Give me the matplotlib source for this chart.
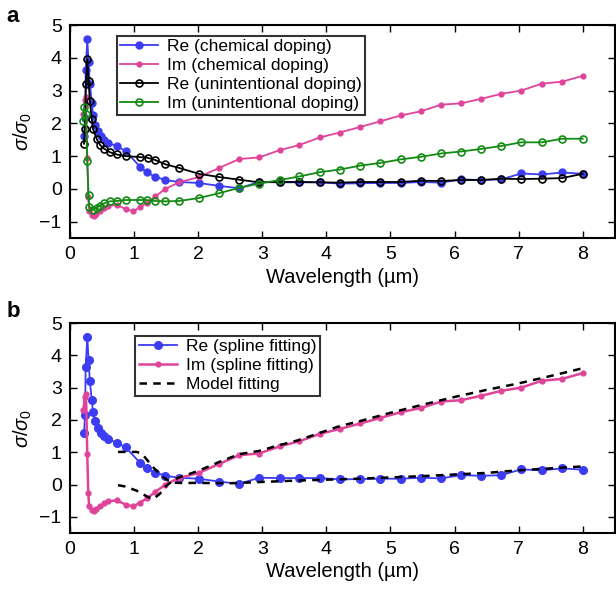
import numpy as np
import matplotlib
matplotlib.use("Agg")
import matplotlib.pyplot as plt

plt.rcParams['font.family'] = ['Liberation Sans', 'DejaVu Sans']
plt.rcParams['mathtext.fontset'] = 'custom'
plt.rcParams['mathtext.rm'] = 'Liberation Sans'
plt.rcParams['mathtext.it'] = 'Liberation Sans:italic'

# chemical doping (also the spline fitting in b)
re_chem_x = [0.22, 0.235, 0.245, 0.27, 0.29, 0.31, 0.34, 0.36, 0.39, 0.43, 0.48, 0.53, 0.60, 0.73, 0.87,
             1.09, 1.20, 1.33, 1.49, 1.70, 2.01, 2.33, 2.64, 2.95, 3.27, 3.58, 3.90, 4.21, 4.53, 4.84,
             5.16, 5.48, 5.79, 6.10, 6.42, 6.73, 7.04, 7.36, 7.68, 8.00]
re_chem_y = [1.60, 2.15, 3.64, 4.56, 3.86, 3.19, 2.63, 2.24, 1.96, 1.76, 1.60, 1.50, 1.40, 1.30, 1.15,
             0.68, 0.50, 0.37, 0.27, 0.21, 0.18, 0.09, 0.02, 0.21, 0.20, 0.20, 0.20, 0.16, 0.17, 0.18,
             0.18, 0.21, 0.19, 0.29, 0.27, 0.29, 0.47, 0.44, 0.50, 0.46]

im_chem_x = [0.21, 0.23, 0.25, 0.27, 0.285, 0.30, 0.34, 0.37, 0.41, 0.47, 0.53, 0.60, 0.73, 0.87, 0.99,
             1.09, 1.20, 1.33, 1.49, 1.70, 2.01, 2.33, 2.64, 2.95, 3.27, 3.58, 3.90, 4.21, 4.53, 4.84,
             5.16, 5.48, 5.79, 6.10, 6.42, 6.73, 7.04, 7.36, 7.68, 8.00]
im_chem_y = [2.30, 2.70, 2.80, 0.93, -0.25, -0.68, -0.80, -0.82, -0.76, -0.67, -0.58, -0.52, -0.49, -0.62, -0.68,
             -0.56, -0.43, -0.23, 0.00, 0.20, 0.36, 0.64, 0.91, 0.96, 1.18, 1.34, 1.57, 1.72, 1.89, 2.06,
             2.24, 2.37, 2.57, 2.61, 2.75, 2.90, 3.00, 3.21, 3.27, 3.45]

# unintentional doping
re_unint_x = [0.22, 0.23, 0.25, 0.27, 0.29, 0.31, 0.34, 0.36, 0.42, 0.47, 0.53, 0.62, 0.73, 0.87, 1.09,
              1.21, 1.33, 1.49, 1.70, 2.01, 2.33, 2.64, 2.95, 3.27, 3.58, 3.90, 4.21, 4.53, 4.84, 5.16,
              5.48, 5.79, 6.10, 6.42, 6.73, 7.04, 7.36, 7.68, 8.00]
re_unint_y = [1.38, 1.84, 3.20, 3.97, 3.30, 2.69, 2.13, 1.82, 1.51, 1.34, 1.23, 1.12, 1.05, 1.00, 0.97,
              0.95, 0.88, 0.75, 0.64, 0.46, 0.36, 0.28, 0.20, 0.21, 0.21, 0.20, 0.19, 0.21, 0.21, 0.21,
              0.25, 0.24, 0.27, 0.27, 0.31, 0.30, 0.31, 0.33, 0.46]

im_unint_x = [0.21, 0.22, 0.25, 0.27, 0.29, 0.30, 0.36, 0.42, 0.47, 0.53, 0.62, 0.73, 0.87, 1.09, 1.20,
              1.33, 1.49, 1.70, 2.01, 2.33, 2.64, 2.95, 3.27, 3.58, 3.90, 4.21, 4.53, 4.84, 5.16, 5.48,
              5.79, 6.10, 6.42, 6.73, 7.04, 7.36, 7.68, 8.00]
im_unint_y = [2.08, 2.49, 2.30, 0.84, -0.18, -0.54, -0.64, -0.57, -0.51, -0.44, -0.38, -0.37, -0.34, -0.34, -0.34,
              -0.37, -0.38, -0.37, -0.28, -0.13, 0.03, 0.16, 0.27, 0.38, 0.51, 0.59, 0.71, 0.79, 0.90, 0.98,
              1.08, 1.14, 1.22, 1.31, 1.42, 1.42, 1.53, 1.53]

# model fitting (b)
re_model_x = [0.75, 1.04, 1.10, 1.17, 1.30, 1.43, 1.53, 1.61, 1.70, 2.00, 2.50, 3.00, 3.50, 4.00, 4.50,
              5.00, 5.50, 6.00, 6.50, 7.00, 7.50, 8.00]
re_model_y = [1.01, 1.01, 0.97, 0.84, 0.53, 0.27, 0.12, 0.06, 0.05, 0.05, 0.04, 0.08, 0.12, 0.15, 0.18,
              0.22, 0.26, 0.31, 0.36, 0.44, 0.50, 0.56]
im_model_x = [0.75, 0.86, 1.04, 1.22, 1.30, 1.40, 1.50, 1.61, 1.70, 2.00, 2.33, 2.64, 2.95, 3.27, 3.58,
              3.90, 4.21, 4.50, 5.00, 5.50, 6.00, 6.50, 7.00, 7.50, 8.00]
im_model_y = [-0.02, -0.06, -0.19, -0.39, -0.45, -0.29, -0.04, 0.12, 0.22, 0.42, 0.70, 0.94, 1.04, 1.22, 1.38,
              1.60, 1.81, 1.95, 2.22, 2.47, 2.71, 2.93, 3.13, 3.36, 3.60]

blue = '#3c3cf2'
pink = '#e0449a'
green = '#138a13'

fig = plt.figure(figsize=(6.16, 5.93), dpi=100)
ax1 = fig.add_axes([0.1136, 0.5986, 0.8844, 0.3592])
ax2 = fig.add_axes([0.1136, 0.1012, 0.8844, 0.3541])

ax1.plot(re_chem_x, re_chem_y, '-o', color=blue, ms=5, lw=1.3, label='Re (chemical doping)')
ax1.plot(im_chem_x, im_chem_y, '-o', color=pink, ms=3.5, lw=1.3, label='Im (chemical doping)')
ax1.plot(re_unint_x, re_unint_y, '-o', color='black', mfc='none', mew=1.2, ms=5, lw=1.3,
         label='Re (unintentional doping)')
ax1.plot(im_unint_x, im_unint_y, '-o', color=green, mfc='none', mew=1.2, ms=5, lw=1.3,
         label='Im (unintentional doping)')

ax2.plot(re_chem_x, re_chem_y, '-o', color=blue, ms=5.5, lw=1.3, label='Re (spline fitting)')
ax2.plot(im_chem_x, im_chem_y, '-o', color=pink, ms=3.5, lw=1.8, label='Im (spline fitting)')
ax2.plot(re_model_x, re_model_y, '--', color='black', lw=1.8, dashes=(3, 2.5), label='Model fitting')
ax2.plot(im_model_x, im_model_y, '--', color='black', lw=1.8, dashes=(3, 2.5))

for ax in (ax1, ax2):
    ax.set_xlim(0, 8.5)
    ax.set_ylim(-1.5, 5)
    ax.set_xticks(range(0, 9))
    ax.set_yticks(range(-1, 6))
    ax.set_yticklabels(['\u22121', '0', '1', '2', '3', '4', '5'])
    ax.tick_params(direction='in', top=True, right=True, length=5, width=1, labelsize=14, pad=6)
    for s in ax.spines.values():
        s.set_linewidth(1.5)
    ax.set_xlabel('Wavelength (\u00b5m)', fontsize=14.5, labelpad=3)
    ax.set_ylabel(r'$\sigma/\sigma_0$', fontsize=14.5, labelpad=4)

leg1 = ax1.legend(loc='upper left', bbox_to_anchor=(0.086, 0.95), fontsize=12.5, frameon=True,
                  fancybox=False, edgecolor='black', handlelength=2.2, borderpad=0.2,
                  labelspacing=0.22, handletextpad=0.5, borderaxespad=0)
leg1.get_frame().set_linewidth(1.5)
leg2 = ax2.legend(loc='upper left', bbox_to_anchor=(0.12, 0.94), fontsize=12.5, frameon=True,
                  fancybox=False, edgecolor='black', handlelength=2.2, borderpad=0.2,
                  labelspacing=0.22, handletextpad=0.5, borderaxespad=0)
leg2.get_frame().set_linewidth(1.5)

fig.text(0.01, 0.99, 'a', fontsize=16, fontweight='bold', va='top')
fig.text(0.01, 0.492, 'b', fontsize=16, fontweight='bold', va='top')

fig.savefig('out.png', dpi=100)
